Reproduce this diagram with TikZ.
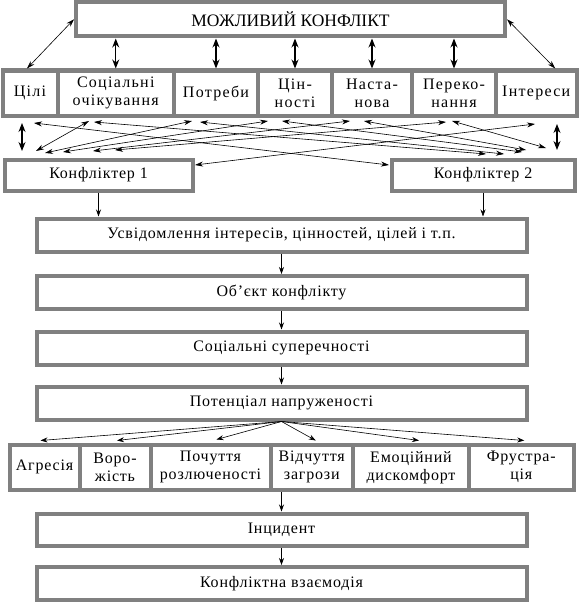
\documentclass[tikz,border=0pt]{standalone}
\usepackage{fontspec}
\setmainfont{Liberation Serif}[LetterSpace=5]
\newfontfamily\wideLS{Liberation Serif}[LetterSpace=8]
\newfontfamily\titleF{Liberation Serif}
\usetikzlibrary{arrows.meta}
\definecolor{bordergray}{RGB}{128,128,128}
\begin{document}
\begin{tikzpicture}[x=1pt,y=-1pt,
  box/.style={draw=bordergray, line width=4pt, fill=white, inner sep=0pt, align=center,
    font=\fontsize{16}{18}\selectfont},
  widebox/.style={box, font=\wideLS\fontsize{16}{18}\selectfont},
  thin/.style={line width=0.6pt, black},
  ar/.style={thin, -{Stealth[length=7pt,width=5pt]}},
  dar/.style={thin, {Stealth[length=8pt,width=5pt]}-{Stealth[length=8pt,width=5pt]}},
  bigdar/.style={line width=1.1pt, {Stealth[length=9pt,width=7pt]}-{Stealth[length=9pt,width=7pt]}}]
\useasboundingbox (0,0) rectangle (579,602);
\fill[white] (0,0) rectangle (579,602);

% top
\node[box, minimum width=429pt, minimum height=34.5pt, font=\titleF\fontsize{17.5}{20}\selectfont] (top) at (290.5,19.25) {МОЖЛИВИЙ КОНФЛІКТ};

% row 2
\node[widebox, minimum width=55pt, minimum height=45pt] (cili) at (30,93) {Цілі};
\node[widebox, minimum width=116.5pt, minimum height=45pt] (soc) at (115.75,93) {Соціальні\\очікування};
\node[widebox, minimum width=84pt, minimum height=45pt] (potr) at (216,93) {Потреби};
\node[widebox, minimum width=74pt, minimum height=45pt] (cin) at (295,93) {Цін-\\ності};
\node[widebox, minimum width=80pt, minimum height=45pt] (nast) at (372,93) {Наста-\\нова};
\node[widebox, minimum width=84pt, minimum height=45pt] (pere) at (454,93) {Переко-\\нання};
\node[widebox, minimum width=80.5pt, minimum height=45pt] (intr) at (536.25,93) {Інтереси};

% conflicters
\node[box, minimum width=188pt, minimum height=31pt] (k1) at (98.5,175) {Конфліктер 1};
\node[box, minimum width=183pt, minimum height=31pt] (k2) at (483,175) {Конфліктер 2};

% stack
\node[box, minimum width=490pt, minimum height=33pt] (u) at (281.5,235) {Усвідомлення інтересів, цінностей, цілей і т.п.};
\node[box, minimum width=490pt, minimum height=33pt] (o) at (281.5,292.5) {Об’єкт конфлікту};
\node[box, minimum width=490pt, minimum height=33.5pt] (s) at (281.5,348.25) {Соціальні суперечності};
\node[box, minimum width=490pt, minimum height=33pt] (p) at (281.5,403) {Потенціал напруженості};

% row 3
\node[box, minimum width=70pt, minimum height=45.5pt] (agr) at (44.5,467.25) {Агресія};
\node[box, minimum width=71pt, minimum height=45.5pt] (vor) at (115,467.25) {Воро-\\жість};
\node[box, minimum width=120pt, minimum height=45.5pt] (poch) at (210.5,467.25) {Почуття\\розлюченості};
\node[box, minimum width=82.5pt, minimum height=45.5pt] (vidch) at (311.75,467.25) {Відчуття\\загрози};
\node[box, minimum width=116pt, minimum height=45.5pt] (emo) at (411,467.25) {Емоційний\\дискомфорт};
\node[box, minimum width=104.5pt, minimum height=45.5pt] (frus) at (521.25,467.25) {Фрустра-\\ція};

\node[box, minimum width=490pt, minimum height=32.5pt] (inc) at (281.5,529.75) {Інцидент};
\node[box, minimum width=490pt, minimum height=33pt] (kv) at (281.5,583.5) {Конфліктна взаємодія};

% top connectors
\draw[dar] (top.west) -- ([xshift=-3pt]cili.north);
\draw[dar] (top.east) -- ([xshift=19pt]intr.north);
\foreach \n in {soc,potr,cin,nast,pere}
  \draw[bigdar] (\n.north |- top.south) -- (\n.north);

% side verticals
\coordinate (l1) at (22,123); \coordinate (l2) at (22,151);
\coordinate (r1) at (557,124); \coordinate (r2) at (557,150);
\draw[bigdar] (l1) -- (l2);
\draw[bigdar] (r1) -- (r2);

% cross connectors
\coordinate (u0) at (34,123);  \coordinate (k2e) at (389,165);
\coordinate (u6) at (535,124); \coordinate (k1e) at (195,165);
\coordinate (a1) at (89,121);  \coordinate (b1) at (36,151);
\coordinate (c1) at (94,122);  \coordinate (d1) at (486,154);
\coordinate (a2) at (192,121); \coordinate (b2) at (45,153);
\coordinate (c2) at (200,122); \coordinate (d2) at (504,154);
\coordinate (a3) at (268,121); \coordinate (b3) at (63,152);
\coordinate (c3) at (282,121); \coordinate (d3) at (522,152);
\coordinate (a4) at (350,121); \coordinate (b4) at (93,151);
\coordinate (c4) at (364,121); \coordinate (d4) at (526,150);
\coordinate (a5) at (446,122); \coordinate (b5) at (115,150);
\coordinate (c5) at (452,121); \coordinate (d5) at (546,148);
\draw[dar] (u0) -- (k2e);
\draw[dar] (u6) -- (k1e);
\foreach \i in {1,...,5} {
  \draw[dar] (a\i) -- (b\i);
  \draw[dar] (c\i) -- (d\i);
}

% down connectors
\draw[ar] (k1.south) -- (k1.south |- u.north);
\draw[ar] (k2.south) -- (k2.south |- u.north);
\draw[ar] (u.south) -- (o.north);
\draw[ar] (o.south) -- (s.north);
\draw[ar] (s.south) -- (p.north);
\draw[ar] (p.south) -- ([xshift=-4pt,yshift=2pt]agr.north);
\draw[ar] (p.south) -- ([xshift=2pt,yshift=2pt]vor.north);
\draw[ar] (p.south) -- ([xshift=6pt,yshift=3pt]poch.north);
\draw[ar] (p.south) -- ([xshift=4pt,yshift=2pt]vidch.north);
\draw[ar] (p.south) -- ([xshift=8pt,yshift=2pt]emo.north);
\draw[ar] (p.south) -- ([xshift=3pt,yshift=2pt]frus.north);
\draw[ar] (inc.north |- vidch.south) -- (inc.north);
\draw[ar] (inc.south) -- (kv.north);
\end{tikzpicture}
\end{document}
